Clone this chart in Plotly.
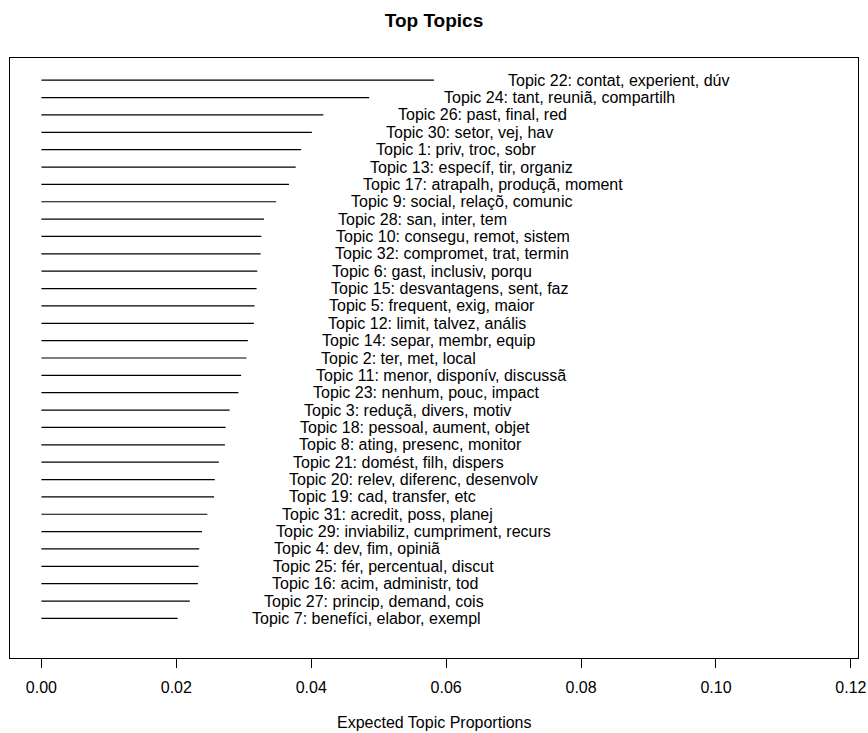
import plotly.graph_objects as go

# Topics ordered from top (largest) to bottom (smallest)
topic_labels = [
    "Topic 22: contat, experient, dúv",
    "Topic 24: tant, reuniã, compartilh",
    "Topic 26: past, final, red",
    "Topic 30: setor, vej, hav",
    "Topic 1: priv, troc, sobr",
    "Topic 13: específ, tir, organiz",
    "Topic 17: atrapalh, produçã, moment",
    "Topic 9: social, relaçõ, comunic",
    "Topic 28: san, inter, tem",
    "Topic 10: consegu, remot, sistem",
    "Topic 32: compromet, trat, termin",
    "Topic 6: gast, inclusiv, porqu",
    "Topic 15: desvantagens, sent, faz",
    "Topic 5: frequent, exig, maior",
    "Topic 12: limit, talvez, anális",
    "Topic 14: separ, membr, equip",
    "Topic 2: ter, met, local",
    "Topic 11: menor, disponív, discussã",
    "Topic 23: nenhum, pouc, impact",
    "Topic 3: reduçã, divers, motiv",
    "Topic 18: pessoal, aument, objet",
    "Topic 8: ating, presenc, monitor",
    "Topic 21: domést, filh, dispers",
    "Topic 20: relev, diferenc, desenvolv",
    "Topic 19: cad, transfer, etc",
    "Topic 31: acredit, poss, planej",
    "Topic 29: inviabiliz, cumpriment, recurs",
    "Topic 4: dev, fim, opiniã",
    "Topic 25: fér, percentual, discut",
    "Topic 16: acim, administr, tod",
    "Topic 27: princip, demand, cois",
    "Topic 7: benefíci, elabor, exempl",
]
proportions = [
    0.0582, 0.0486, 0.0418, 0.0401, 0.0385, 0.0377, 0.0367, 0.0348,
    0.0330, 0.0326, 0.0325, 0.0320, 0.0319, 0.0316, 0.0315, 0.0306,
    0.0304, 0.0296, 0.0292, 0.0279, 0.0273, 0.0272, 0.0263, 0.0257,
    0.0256, 0.0246, 0.0238, 0.0234, 0.0233, 0.0232, 0.0220, 0.0202,
]
x_tick_vals = [0.00, 0.02, 0.04, 0.06, 0.08, 0.10, 0.12]
x_tick_text = ["0.00", "0.02", "0.04", "0.06", "0.08", "0.10", "0.12"]

K = len(proportions)
positions = [K - i for i in range(K)]  # top topic at K, bottom at 1

xs, ys = [], []
for f, p in zip(proportions, positions):
    xs += [0, f, None]
    ys += [p, p, None]

fig = go.Figure()
fig.add_trace(go.Scatter(x=xs, y=ys, mode="lines",
                         line=dict(color="black", width=1.2),
                         hoverinfo="skip", showlegend=False))

font_family = "Liberation Sans, Arial, sans-serif"
annotations = []
for lab, f, p in zip(topic_labels, proportions, positions):
    annotations.append(dict(
        x=f + 0.01, y=p, xref="x", yref="y", text=lab,
        showarrow=False, xanchor="left", yanchor="middle",
        xshift=7, borderpad=0, borderwidth=0,
        font=dict(family=font_family, size=16, color="black"),
    ))
annotations.append(dict(
    x=0.5, y=0, xref="paper", yref="paper", text="Expected Topic Proportions",
    showarrow=False, xanchor="center", yanchor="middle", yshift=-64,
    font=dict(family=font_family, size=16, color="black"),
))

xmax = 2 * max(proportions)
pad_x = 0.04 * xmax
pad_y = 0.04 * K

fig.update_layout(
    width=868, height=733,
    margin=dict(l=10, r=10, t=58, b=75, autoexpand=False),
    paper_bgcolor="white", plot_bgcolor="white",
    title=dict(text="<b>Top Topics</b>", x=0.5, xref="paper",
               y=1 - 20 / 733, yanchor="middle", automargin=False,
               font=dict(family=font_family, size=19, color="black")),
    xaxis=dict(range=[-pad_x, xmax + pad_x], tickvals=x_tick_vals,
               ticktext=x_tick_text, ticks="outside", ticklen=9,
               tickcolor="black", tickwidth=1, showgrid=False, zeroline=False,
               showline=True, linecolor="black", linewidth=1, mirror=True,
               ticklabelstandoff=6, automargin=False,
               tickfont=dict(family=font_family, size=16, color="black")),
    yaxis=dict(range=[-pad_y, K + pad_y], showticklabels=False, ticks="",
               showgrid=False, zeroline=False, showline=True, automargin=False,
               linecolor="black", linewidth=1, mirror=True),
    annotations=annotations,
)

fig.write_html("out.html", config={"displayModeBar": False})

# remove default page margins so the figure sits at the window's top-left
with open("out.html", "r", encoding="utf-8") as fh:
    html = fh.read()
html = html.replace("<head>", "<head><style>html,body{margin:0;padding:0;overflow:hidden}</style>", 1)
with open("out.html", "w", encoding="utf-8") as fh:
    fh.write(html)
